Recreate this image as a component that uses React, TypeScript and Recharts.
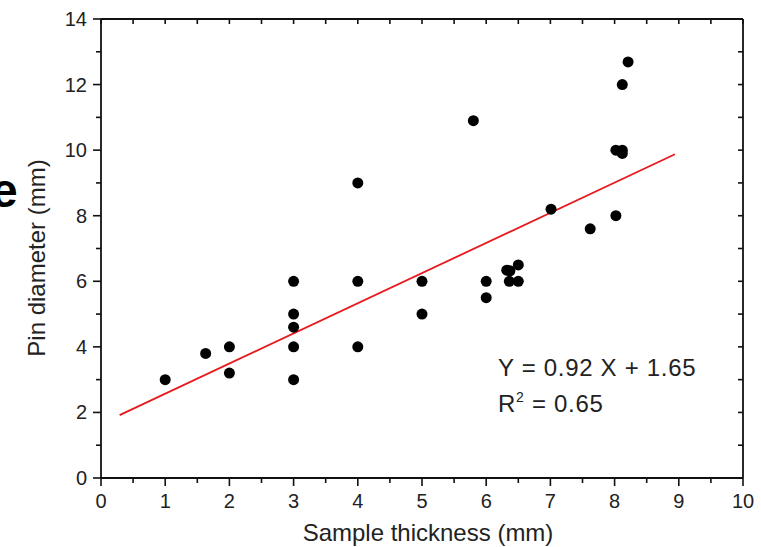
import { ScatterChart, Scatter, XAxis, YAxis, ReferenceLine } from "recharts";

// sample thickness (mm) vs pin diameter (mm)
const thickness = [
  1, 1.63, 2, 2, 3, 3, 3, 3, 3, 4, 4, 4, 5, 5, 5.8, 6, 6, 6.32, 6.37, 6.36,
  6.5, 6.5, 7.01, 7.62, 8.02, 8.02, 8.12, 8.12, 8.12, 8.21,
];
const pinDiameter = [
  3, 3.8, 4, 3.2, 6, 5, 4.6, 4, 3, 9, 6, 4, 6, 5, 10.9, 6, 5.5, 6.34, 6.32, 6.0,
  6.5, 6.0, 8.2, 7.6, 8.0, 10.0, 10.0, 9.9, 12.0, 12.69,
];

// linear fit Y = 0.92 X + 1.65, drawn over the span shown in the figure
const fitSlope = 0.92;
const fitIntercept = 1.65;
const fitRange = [0.29, 8.94];

const xTicks = [0, 0.5, 1, 1.5, 2, 2.5, 3, 3.5, 4, 4.5, 5, 5.5, 6, 6.5, 7, 7.5, 8, 8.5, 9, 9.5, 10];
const yTicks = [0, 1, 2, 3, 4, 5, 6, 7, 8, 9, 10, 11, 12, 13, 14];

const points = thickness.map((x, i) => ({ x, y: pinDiameter[i] }));
const fitLine = fitRange.map((x) => ({ x, y: fitSlope * x + fitIntercept }));

const INK = "#111";
const FONT = "'Liberation Sans', Arial, sans-serif";

const BottomTick = ({ x, y, payload }: any) => {
  const v = payload.value;
  const major = Number.isInteger(v);
  return (
    <g>
      <line x1={x} x2={x} y1={y} y2={y + (major ? 8 : 5)} stroke={INK} strokeWidth={1.6} />
      {major && (
        <text x={x} y={y + 30} textAnchor="middle" fontSize={20} fill="#222" fontFamily={FONT}>
          {v}
        </text>
      )}
    </g>
  );
};

const TopTick = ({ x, y }: any) => (
  <line x1={x} x2={x} y1={y} y2={y + 5} stroke={INK} strokeWidth={1.6} />
);

const LeftTick = ({ x, y, payload }: any) => {
  const v = payload.value;
  const major = v % 2 === 0;
  return (
    <g>
      <line x1={x} x2={x - (major ? 8 : 5)} y1={y} y2={y} stroke={INK} strokeWidth={1.6} />
      {major && (
        <text x={x - 14} y={y + 7} textAnchor="end" fontSize={20} fill="#222" fontFamily={FONT}>
          {v}
        </text>
      )}
    </g>
  );
};

const RightTick = ({ x, y }: any) => (
  <line x1={x} x2={x - 5} y1={y} y2={y} stroke={INK} strokeWidth={1.6} />
);

const Dot = ({ cx, cy }: any) => <circle cx={cx} cy={cy} r={5.5} fill="#000" />;

export default function App() {
  return (
    <div style={{ position: "absolute", left: 0, top: 0, width: 761, height: 547, background: "#fff", fontFamily: FONT }}>
      <ScatterChart width={761} height={547} margin={{ top: 9, right: 8, bottom: 39, left: 61 }}>
        <XAxis
          type="number"
          dataKey="x"
          domain={[0, 10]}
          ticks={xTicks}
          interval={0}
          height={30}
          tickSize={0}
          tickMargin={0}
          tickLine={false}
          tick={<BottomTick />}
          axisLine={{ stroke: INK, strokeWidth: 1.8 }}
          allowDataOverflow
        />
        <XAxis
          xAxisId="top"
          orientation="top"
          type="number"
          dataKey="x"
          domain={[0, 10]}
          ticks={xTicks}
          interval={0}
          height={10}
          tickSize={0}
          tickMargin={0}
          tickLine={false}
          tick={<TopTick />}
          axisLine={{ stroke: INK, strokeWidth: 1.8 }}
          allowDataOverflow
        />
        <YAxis
          type="number"
          dataKey="y"
          domain={[0, 14]}
          ticks={yTicks}
          interval={0}
          width={40}
          tickSize={0}
          tickMargin={0}
          tickLine={false}
          tick={<LeftTick />}
          axisLine={{ stroke: INK, strokeWidth: 1.8 }}
          allowDataOverflow
        />
        <YAxis
          yAxisId="right"
          orientation="right"
          type="number"
          dataKey="y"
          domain={[0, 14]}
          ticks={yTicks}
          interval={0}
          width={10}
          tickSize={0}
          tickMargin={0}
          tickLine={false}
          tick={<RightTick />}
          axisLine={{ stroke: INK, strokeWidth: 1.8 }}
          allowDataOverflow
        />
        <ReferenceLine
          segment={[fitLine[0], fitLine[1]]}
          stroke="#e8181c"
          strokeWidth={1.8}
          ifOverflow="visible"
        />
        <Scatter data={points} shape={<Dot />} isAnimationActive={false} />
      </ScatterChart>

      <div
        style={{
          position: "absolute",
          left: 37,
          top: 258,
          transform: "translate(-50%, -50%) rotate(-90deg)",
          whiteSpace: "nowrap",
          fontSize: 24,
          lineHeight: "24px",
          color: "#222",
        }}
      >
        Pin diameter (mm)
      </div>
      <div
        style={{
          position: "absolute",
          left: 428,
          top: 521,
          transform: "translateX(-50%)",
          whiteSpace: "nowrap",
          fontSize: 24,
          lineHeight: "24px",
          color: "#222",
        }}
      >
        Sample thickness (mm)
      </div>
      <div style={{ position: "absolute", left: 498, top: 356, fontSize: 24, lineHeight: "24px", letterSpacing: 0.7, color: "#222", whiteSpace: "nowrap" }}>
        Y = 0.92 X + 1.65
      </div>
      <div style={{ position: "absolute", left: 498, top: 392, fontSize: 24, lineHeight: "24px", letterSpacing: 0.7, color: "#222", whiteSpace: "nowrap" }}>
        R<sup style={{ fontSize: 14, verticalAlign: "10px", lineHeight: 0 }}>2</sup> = 0.65
      </div>
      <div
        style={{
          position: "absolute",
          left: -9,
          top: 163,
          fontSize: 48,
          fontWeight: "bold",
          lineHeight: "56px",
          color: "#000",
        }}
      >
        e
      </div>
    </div>
  );
}
